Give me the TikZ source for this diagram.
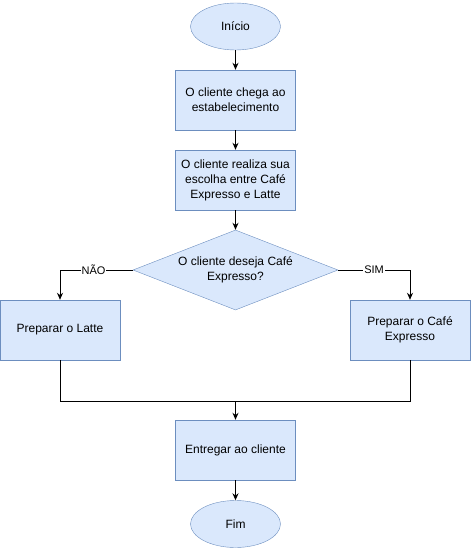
\documentclass[tikz,border=0pt]{standalone}
\usepackage{fontspec}
\setmainfont{Liberation Sans}
\usetikzlibrary{shapes.geometric,arrows.meta}
\definecolor{boxfill}{HTML}{DAE8FC}
\definecolor{boxline}{HTML}{6C8EBF}
\tikzset{
  stepbox/.style={draw=boxline, fill=boxfill, minimum width=120pt, minimum height=60pt, align=center, inner sep=0pt},
  term/.style={ellipse, draw=boxline, fill=boxfill, minimum width=90pt, minimum height=47pt, inner sep=0pt},
  decide/.style={diamond, draw=boxline, fill=boxfill, minimum width=205pt, minimum height=80pt, aspect=2.56, inner sep=0pt, align=center},
  flow/.style={-{Stealth[length=7pt,width=6pt]}, line width=1pt},
  answer/.style={fill=white, inner sep=1pt, font=\fontsize{11}{13}\selectfont}
}
\begin{document}
\begin{tikzpicture}[x=1pt, y=-1pt, font=\fontsize{12}{15}\selectfont]
    \useasboundingbox (0,0) rectangle (471,551);
    \node [term] (inicio) at (235.5,26.5) {Início};
    \node [stepbox] (chega) at (235.5,100) {O cliente chega ao\\estabelecimento};
    \node [stepbox] (escolha) at (235.5,180) {O cliente realiza sua\\escolha entre Café\\Expresso e Latte};
    \node [decide] (decisao) at (235.5,270) {O cliente deseja Café\\Expresso?};
    \node [stepbox] (latte) at (60,330) {Preparar o Latte};
    \node [stepbox] (expresso) at (410,330) {Preparar o Café\\Expresso};
    \node [stepbox] (entregar) at (235.5,450) {Entregar ao cliente};
    \node [term] (fim) at (235.5,524) {Fim};
    \coordinate (junta) at (235.5,401);

    \draw [flow] (inicio) -- (chega);
    \draw [flow] (chega) -- (escolha);
    \draw [flow] (escolha) -- (decisao);
    \draw [flow] (decisao.west) -| node [answer, pos=0.27] {NÃO} (latte.north);
    \draw [flow] (decisao.east) -| node [answer, pos=0.25] {SIM} (expresso.north);
    \draw [line width=1pt] (latte.south) |- (junta);
    \draw [line width=1pt] (expresso.south) |- (junta);
    \draw [flow] (junta) -- (entregar);
    \draw [flow] (entregar) -- (fim);
  \end{tikzpicture}
\end{document}
